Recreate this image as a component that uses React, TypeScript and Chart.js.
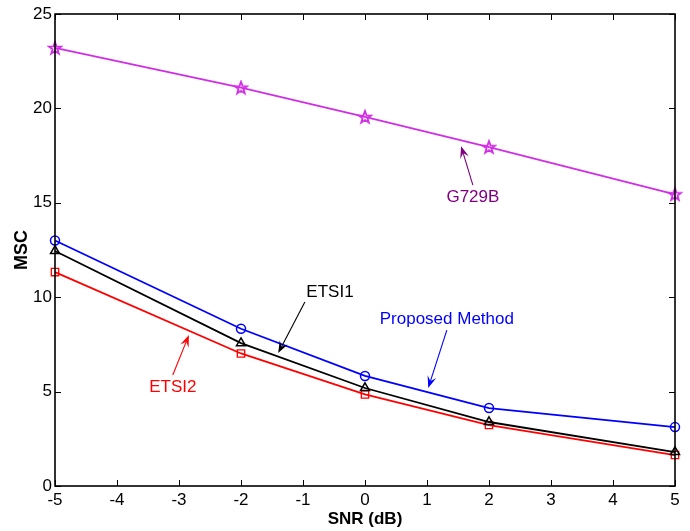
import React, { useEffect, useRef } from "react";
import { Chart, registerables } from "chart.js";

Chart.register(...registerables);

// SNR values (dB) on the horizontal axis
const snr = [-5, -2, 0, 2, 5];

// MSC for each detector
const g729b = [23.2, 21.1, 19.55, 17.95, 15.45];
const proposed = [13.0, 8.33, 5.83, 4.13, 3.12];
const etsi1 = [12.45, 7.57, 5.19, 3.39, 1.8];
const etsi2 = [11.33, 7.02, 4.85, 3.23, 1.64];

const seriesNames = ["G729B", "Proposed Method", "ETSI1", "ETSI2"];

const FONT = "'Liberation Sans', Arial, Helvetica, sans-serif";

// Callout labels with arrows, positioned in data units (SNR, MSC)
type Callout = {
  text: string;
  color: string;
  tx: number; ty: number; // text centre
  ax: number; ay: number; // arrow tail
  bx: number; by: number; // arrow tip
};

const callouts: Callout[] = [
  { text: seriesNames[0], color: "#800080", tx: 1.74, ty: 15.3, ax: 1.74, ay: 15.94, bx: 1.55, by: 18.0 },
  { text: seriesNames[2], color: "#000000", tx: -0.565, ty: 10.28, ax: -0.97, ay: 9.75, bx: -1.4, by: 7.04 },
  { text: seriesNames[1], color: "#0000ff", tx: 1.32, ty: 8.85, ax: 1.32, ay: 8.26, bx: 1.02, by: 5.19 },
  { text: seriesNames[3], color: "#ff0000", tx: -3.1, ty: 5.24, ax: -3.1, ay: 5.88, bx: -2.84, by: 8.0 },
];

function makePentagram(color: string): HTMLCanvasElement {
  const c = document.createElement("canvas");
  c.width = 16;
  c.height = 16;
  const ctx = c.getContext("2d")!;
  const cx = 8, cy = 8.5, R = 6.4, r = 2.6;
  ctx.beginPath();
  for (let i = 0; i < 10; i++) {
    const rad = (Math.PI / 5) * i - Math.PI / 2;
    const rr = i % 2 === 0 ? R : r;
    const x = cx + Math.cos(rad) * rr;
    const y = cy + Math.sin(rad) * rr;
    if (i === 0) ctx.moveTo(x, y);
    else ctx.lineTo(x, y);
  }
  ctx.closePath();
  ctx.strokeStyle = color;
  ctx.lineWidth = 1.8;
  ctx.stroke();
  return c;
}

// Box frame with inward tick marks on all four sides
const frameTicks = {
  id: "frameTicks",
  afterDraw(chart: any) {
    const { ctx, chartArea: a, scales } = chart;
    const xs = scales.x, ys = scales.y;
    const len = 6;
    ctx.save();
    ctx.strokeStyle = "#000";
    ctx.lineWidth = 1;
    ctx.beginPath();
    for (const t of xs.ticks) {
      const px = Math.round(xs.getPixelForValue(t.value)) + 0.5;
      ctx.moveTo(px, a.bottom);
      ctx.lineTo(px, a.bottom - len);
      ctx.moveTo(px, a.top);
      ctx.lineTo(px, a.top + len);
    }
    for (const t of ys.ticks) {
      const py = Math.round(ys.getPixelForValue(t.value)) + 0.5;
      ctx.moveTo(a.left, py);
      ctx.lineTo(a.left + len, py);
      ctx.moveTo(a.right, py);
      ctx.lineTo(a.right - len, py);
    }
    ctx.stroke();
    ctx.lineWidth = 1.6;
    ctx.strokeRect(a.left, a.top, a.right - a.left, a.bottom - a.top);
    ctx.restore();
  },
};

// Text labels with arrows pointing at the curves
const calloutPlugin = {
  id: "callouts",
  afterDatasetsDraw(chart: any) {
    const { ctx, scales } = chart;
    const xs = scales.x, ys = scales.y;
    ctx.save();
    for (const c of callouts) {
      const tx = xs.getPixelForValue(c.tx), ty = ys.getPixelForValue(c.ty);
      const ax = xs.getPixelForValue(c.ax), ay = ys.getPixelForValue(c.ay);
      const bx = xs.getPixelForValue(c.bx), by = ys.getPixelForValue(c.by);
      ctx.fillStyle = c.color;
      ctx.strokeStyle = c.color;
      ctx.font = `17px ${FONT}`;
      ctx.textAlign = "center";
      ctx.textBaseline = "middle";
      ctx.fillText(c.text, tx, ty);
      const ang = Math.atan2(by - ay, bx - ax);
      const head = 12, half = 4.5;
      const hx = bx - Math.cos(ang) * head, hy = by - Math.sin(ang) * head;
      ctx.lineWidth = 1.1;
      ctx.beginPath();
      ctx.moveTo(ax, ay);
      ctx.lineTo(bx - Math.cos(ang) * head * 0.6, by - Math.sin(ang) * head * 0.6);
      ctx.stroke();
      ctx.beginPath();
      ctx.moveTo(bx, by);
      ctx.lineTo(hx + Math.sin(ang) * half, hy - Math.cos(ang) * half);
      ctx.lineTo(bx - Math.cos(ang) * head * 0.6, by - Math.sin(ang) * head * 0.6);
      ctx.lineTo(hx - Math.sin(ang) * half, hy + Math.cos(ang) * half);
      ctx.closePath();
      ctx.fill();
    }
    ctx.restore();
  },
};

export default function App() {
  const ref = useRef<HTMLCanvasElement | null>(null);

  useEffect(() => {
    if (!ref.current) return;
    const magenta = "rgb(210,45,230)";
    const pts = (ys: number[]) => snr.map((x, i) => ({ x, y: ys[i] }));
    const chart = new Chart(ref.current, {
      type: "line",
      data: {
        datasets: [
          {
            label: seriesNames[0],
            data: pts(g729b),
            borderColor: magenta,
            borderWidth: 1.8,
            pointStyle: makePentagram(magenta) as any,
            pointRadius: 6,
            backgroundColor: "transparent",
            clip: false as any,
          },
          {
            label: seriesNames[1],
            data: pts(proposed),
            borderColor: "#0000ff",
            borderWidth: 1.8,
            pointStyle: "circle",
            pointRadius: 4.5,
            pointBorderWidth: 1.5,
            pointBackgroundColor: "rgba(0,0,0,0)",
            backgroundColor: "transparent",
            clip: false as any,
          },
          {
            label: seriesNames[2],
            data: pts(etsi1),
            borderColor: "#000000",
            borderWidth: 1.8,
            pointStyle: "triangle",
            pointRadius: 5.2,
            pointBorderWidth: 1.5,
            pointBackgroundColor: "rgba(0,0,0,0)",
            backgroundColor: "transparent",
            clip: false as any,
          },
          {
            label: seriesNames[3],
            data: pts(etsi2),
            borderColor: "#ff0000",
            borderWidth: 1.8,
            pointStyle: "rect",
            pointRadius: 5.2,
            pointBorderWidth: 1.3,
            pointBackgroundColor: "rgba(0,0,0,0)",
            backgroundColor: "transparent",
            clip: false as any,
          },
        ],
      },
      options: {
        animation: false,
        responsive: false,
        layout: { padding: { left: 0, right: 15, top: 14, bottom: 0 } },
        plugins: {
          legend: { display: false },
          tooltip: { enabled: false },
        },
        elements: { line: { tension: 0 } },
        scales: {
          x: {
            type: "linear",
            min: -5,
            max: 5,
            grid: { display: false, drawTicks: false },
            border: { display: false },
            ticks: {
              stepSize: 1,
              padding: 4,
              color: "#000",
              font: { family: FONT, size: 17 },
              maxRotation: 0,
            },
            title: {
              display: true,
              text: "SNR (dB)",
              color: "#000",
              font: { family: FONT, size: 17, weight: "bold" },
              padding: { top: 0, bottom: 1 },
            },
            afterFit: (s: any) => {
              s.height = 45;
            },
          },
          y: {
            type: "linear",
            min: 0,
            max: 25,
            grid: { display: false, drawTicks: false },
            border: { display: false },
            ticks: {
              stepSize: 5,
              padding: 3,
              color: "#000",
              font: { family: FONT, size: 17 },
            },
            title: {
              display: true,
              text: "MSC",
              color: "#000",
              font: { family: FONT, size: 18, weight: "bold" },
              padding: { top: 11, bottom: 0 },
            },
            afterFit: (s: any) => {
              s.width = 55;
            },
          },
        },
      },
      plugins: [frameTicks, calloutPlugin],
    });
    return () => chart.destroy();
  }, []);

  return (
    <div style={{ position: "fixed", left: 0, top: 0, width: 690, height: 531, background: "#fff" }}>
      <canvas ref={ref} width={690} height={531} />
    </div>
  );
}
